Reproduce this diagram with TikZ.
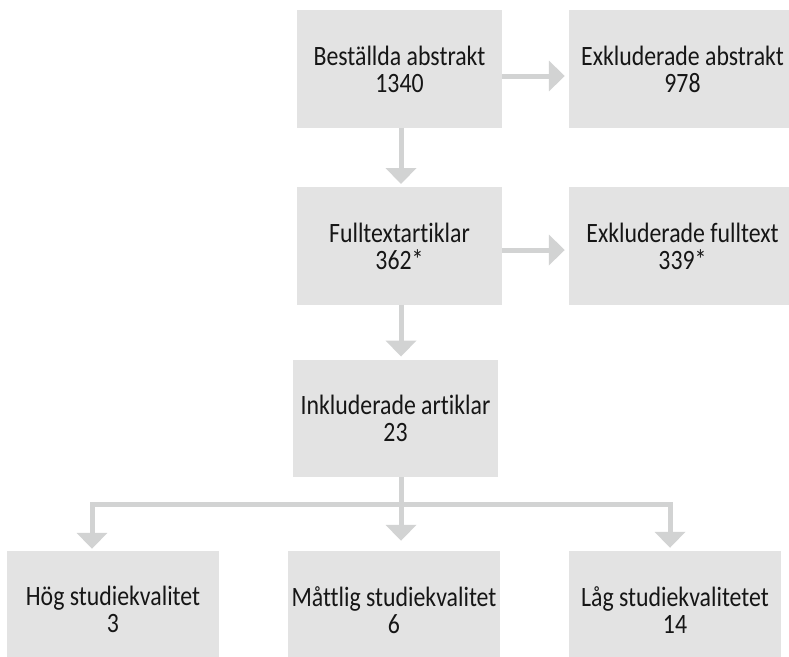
\documentclass[tikz,border=0pt]{standalone}
\usepackage{fontspec}
\setmainfont[FakeStretch=0.85, Ligatures=NoCommon]{Carlito}
\usetikzlibrary{arrows.meta,calc}
\definecolor{boxgray}{HTML}{E3E3E3}
\definecolor{arrowgray}{HTML}{D2D3D3}
\definecolor{ink}{HTML}{161616}
\begin{document}
\begin{tikzpicture}[x=1pt,y=-1pt,
  box/.style={fill=boxgray, draw=none, inner sep=0pt, align=center, text=ink,
    minimum height=117.5pt, font=\fontsize{28}{27}\selectfont},
  flow/.style={draw=arrowgray, line width=5pt, line join=miter,
    -{Triangle[length=16pt,width=30pt]}},
]
\useasboundingbox (0,0) rectangle (789,656);

% main column
\node[box, minimum width=205pt] (b1) at (399.5,69)   {Beställda abstrakt\\1340};
\node[box, minimum width=205pt] (b2) at (399.5,246)  {Fulltextartiklar\\362*};
\node[box, minimum width=205pt] (b3) at (395.5,418.5) {Inkluderade artiklar\\23};

% exclusions
\node[box, minimum width=227pt] (e1) at (682.5,69)  {Exkluderade abstrakt\\978};
\node[box, minimum width=227pt] (e2) at (682.5,246) {Exkluderade fulltext\\339*};

% quality groups
\node[box, minimum width=212pt] (q1) at (113,609.75) {Hög studiekvalitet\\3};
\node[box, minimum width=212pt] (q2) at (394,609.75) {Måttlig studiekvalitet\\6};
\node[box, minimum width=212pt] (q3) at (675,609.75) {Låg studiekvalitetet\\14};

% vertical flow
\draw[flow] ($(b1.south)+(1.5,0)$) -- ($(b2.north)+(1.5,-3)$);
\draw[flow] ($(b2.south)+(1.5,0)$) -- ($(b3.north)+(5.5,-3)$);

% side exits
\draw[flow] ($(b1.east)+(0,7)$) -- ($(e1.west)+(-4,7)$);
\draw[flow] ($(b2.east)+(0,4)$) -- ($(e2.west)+(-4,4)$);

% split into three groups
\coordinate (fork) at (401,504);
\draw[flow] (b3.south -| fork) -- (fork) -| ($(q1.north)+(-21,-2)$);
\draw[flow] (b3.south -| fork) -- ($(q2.north)+(7,-10)$);
\draw[flow] (b3.south -| fork) -- (fork) -| ($(q3.north)+(-5,-3)$);
\end{tikzpicture}
\end{document}
